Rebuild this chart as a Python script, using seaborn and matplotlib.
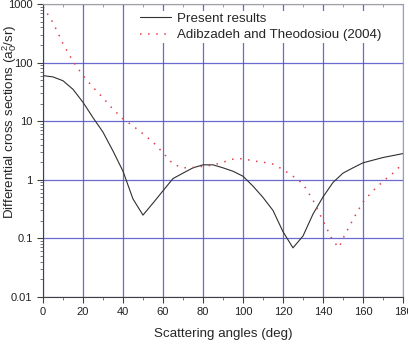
import numpy as np
import pandas as pd
import seaborn as sns
import matplotlib
matplotlib.use('Agg')
from matplotlib import pyplot as plt
from matplotlib.ticker import FixedLocator, FixedFormatter, LogLocator, NullFormatter, MultipleLocator

### data

angles_present = [0, 5, 10, 15, 20, 25, 30, 35, 40, 45, 50, 55, 60, 65, 70, 75, 80, 85, 90,
                  95, 100, 105, 110, 115, 120, 125, 130, 135, 140, 145, 150, 155, 160, 170, 180]
dcs_present = [60, 57, 49, 35, 21, 11.5, 6.5, 3.1, 1.4, 0.47, 0.25, 0.4, 0.65, 1.05, 1.3, 1.6, 1.8, 1.8, 1.6,
               1.4, 1.15, 0.78, 0.5, 0.3, 0.13, 0.069, 0.11, 0.26, 0.51, 0.9, 1.3, 1.6, 1.95, 2.4, 2.8]

angles_adib = [0, 5, 10, 15, 20, 25, 30, 35, 40, 45, 50, 55, 60, 65, 70, 75, 80, 85, 90, 95,
               100, 105, 110, 115, 120, 125, 130, 135, 140, 145, 148, 150, 155, 160, 165, 170, 175, 180]
dcs_adib = [900, 480, 210, 105, 60, 38, 25, 16, 11, 8.3, 6.1, 4.4, 2.9, 1.85, 1.6, 1.62, 1.7, 1.78, 2.0, 2.25,
            2.3, 2.1, 2.0, 1.85, 1.5, 1.15, 0.85, 0.45, 0.2, 0.09, 0.07, 0.1, 0.21, 0.42, 0.65, 0.94, 1.3, 1.9]

y_ticks = [0.01, 0.1, 1, 10, 100, 1000]
y_ticklabels = ['0.01', '0.1', '1', '10', '100', '1000']

df1 = pd.DataFrame({'angle': angles_present, 'dcs': dcs_present})
df2 = pd.DataFrame({'angle': angles_adib, 'dcs': dcs_adib})

### plot

sns.set_style('ticks')
plt.rcParams['font.family'] = ['Liberation Sans', 'DejaVu Sans']
plt.rcParams['mathtext.fontset'] = 'custom'
plt.rcParams['mathtext.rm'] = 'Liberation Sans'
plt.rcParams['mathtext.it'] = 'Liberation Sans'

fig = plt.figure(figsize=(4.08, 3.46), dpi=100)
ax = fig.add_axes([43/408, 1-297/346, 360/408, 293/346])

sns.lineplot(data=df1, x='angle', y='dcs', ax=ax, color='#303030', lw=0.8, label='Present results')
sns.lineplot(data=df2, x='angle', y='dcs', ax=ax, color='#e0404a', lw=1.1,
             linestyle=(0, (1, 4.3)), label='Adibzadeh and Theodosiou (2004)')

ax.set_yscale('log')
ax.set_xlim(0, 180)
ax.set_ylim(0.01, 1000)
ax.yaxis.set_major_locator(FixedLocator(y_ticks))
ax.yaxis.set_major_formatter(FixedFormatter(y_ticklabels))
ax.yaxis.set_minor_locator(LogLocator(base=10, subs=np.arange(2, 10)))
ax.yaxis.set_minor_formatter(NullFormatter())
ax.xaxis.set_major_locator(MultipleLocator(20))
ax.xaxis.set_minor_locator(MultipleLocator(10))

ax.grid(True, which='major', color='#5050c8', lw=0.9, alpha=0.85)
ax.tick_params(which='major', length=4, width=0.8, labelsize=8, colors='#404040', labelcolor='#222222')
ax.tick_params(which='minor', length=2.2, width=0.6, colors='#606060')
for s in ['left', 'bottom']:
    ax.spines[s].set_color('#404040')
    ax.spines[s].set_linewidth(0.8)
for s in ['top', 'right']:
    ax.spines[s].set_visible(True)
    ax.spines[s].set_color('#a0a0a0')
    ax.spines[s].set_linewidth(0.8)

top = ax.secondary_xaxis('top')
top.xaxis.set_major_locator(MultipleLocator(10))
top.tick_params(direction='in', length=2.5, width=0.6, colors='#909090', labeltop=False)
top.spines['top'].set_visible(False)

ax.set_xlabel('Scattering angles (deg)', fontsize=9.6)
ax.set_ylabel('Differential cross sections (a$_0^2$/sr)', fontsize=9.6)
ax.xaxis.label.set_va('center')
ax.xaxis.set_label_coords(0.5, -(334 - 297) / 293)
ax.yaxis.label.set_va('center')
ax.yaxis.set_label_coords(-(43 - 10) / 360, (297 - 122) / 293)

leg = ax.legend(loc='upper left', bbox_to_anchor=(0.245, 1.0), fontsize=9.6, frameon=True,
                fancybox=False, edgecolor='none', facecolor='white', framealpha=1,
                handlelength=2.3, handletextpad=0.5, borderpad=0.15, labelspacing=0.3)

plt.savefig('out.png', dpi=100)
